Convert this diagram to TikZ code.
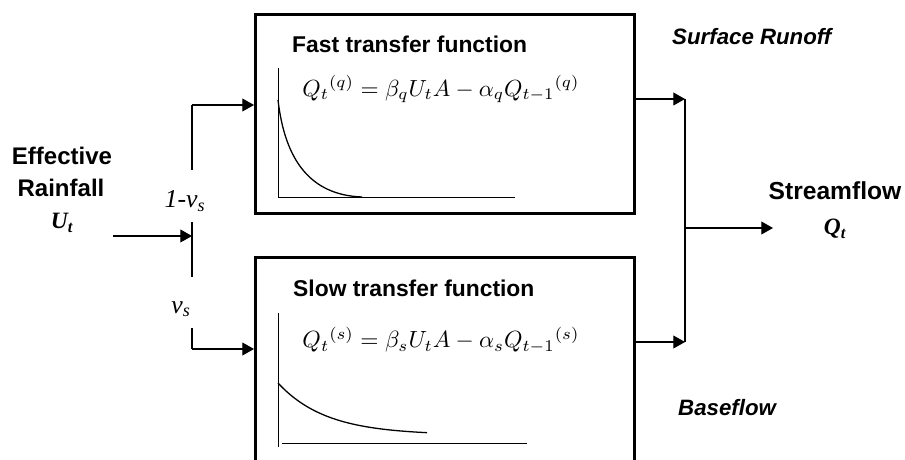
\documentclass[tikz,border=0pt]{standalone}
\usepackage{fontspec}
\usepackage{amsmath}
\usepackage{graphicx}
\setmainfont{Liberation Sans}
\newfontfamily\tnr{Liberation Serif}
\usetikzlibrary{arrows.meta}
\tikzset{
  box/.style={draw, line width=2.2pt, inner sep=0pt, anchor=north west, minimum width=11.37cm},
  conn/.style={line width=1.1pt},
  arr/.style={conn, -{Triangle[length=10pt,width=11pt]}},
  axisline/.style={line width=0.8pt},
  decay/.style={line width=1.1pt},
  title/.style={anchor=base west, inner sep=0pt, font=\fontsize{19.5}{22}\bfseries\selectfont},
  big/.style={anchor=base, inner sep=0pt, font=\fontsize{20.5}{24}\bfseries\selectfont},
  flow/.style={anchor=base west, inner sep=0pt, font=\fontsize{19}{22}\bfseries\itshape\selectfont},
  var/.style={anchor=base, inner sep=0pt, font=\fontsize{20}{22}\tnr\bfseries\itshape\selectfont},
  frac/.style={anchor=base, inner sep=0pt, font=\fontsize{22}{24}\tnr\itshape\selectfont},
  eq/.style={anchor=center, inner sep=0pt}
}
\begin{document}
\begin{tikzpicture}[x=0.03cm, y=-0.03cm]
\clip (0,0) rectangle (905,460);
\fill[white] (0,0) rectangle (905,460);

% boxes
\node[box, minimum height=5.97cm] (fast) at (254,13) {};
\node[box, minimum height=7cm] (slow) at (254,256) {};

% titles
\node[title] (ftitle) at (292,53) {Fast transfer function};
\node[title] (stitle) at (293,297) {Slow transfer function};

% equations
\node[eq] (feq) at (441,89) {\resizebox{8.31cm}{!}{$Q_t{}^{(q)} = \beta_q U_t A - \alpha_q Q_{t-1}{}^{(q)}$}};
\node[eq] (seq) at (441,340) {\resizebox{8.31cm}{!}{$Q_t{}^{(s)} = \beta_s U_t A - \alpha_s Q_{t-1}{}^{(s)}$}};

% fast graph
\draw[axisline] (278,68) -- (278,197) -- (515,197);
\draw[decay] (278,100) .. controls (285,160) and (310,195) .. (362,197);

% slow graph
\draw[axisline] (278,313) -- (278,447);
\draw[axisline] (282,443) -- (527,443);
\draw[decay] plot[domain=0:149, samples=60, smooth] ({278+\x},{435-52*exp(-\x/48)});

% left labels
\node[big] (eff) at (62,165) {Effective};
\node[big] (rain) at (61,197) {Rainfall};
\node[var] (ut) at (62,229) {U\textsubscript{t}};
\node[frac] (onev) at (185,208) {1-v\textsubscript{s}};
\node[frac] (vs) at (181,313) {v\textsubscript{s}};

% input connectors
\coordinate (inp) at (113,236);
\coordinate (split) at (192,236);
\coordinate (ftop) at (192,105);
\coordinate (sbot) at (192,349);
\draw[arr] (inp) -- (split);
\draw[conn] (192,170) -- (ftop);
\draw[arr] (ftop) -- (ftop -| fast.west);
\draw[conn] (192,222) -- (192,277);
\draw[conn] (192,328) -- (sbot);
\draw[arr] (sbot) -- (sbot -| slow.west);

% output connectors
\coordinate (j1) at (685,99);
\coordinate (j2) at (685,342);
\coordinate (jm) at (685,228);
\coordinate (out) at (773,228);
\draw[arr] (j1 -| fast.east) -- (j1);
\draw[arr] (j2 -| slow.east) -- (j2);
\draw[conn] (j1) -- (j2);
\draw[arr] (jm) -- (out);

% right labels
\node[flow] (surf) at (672,45) {Surface Runoff};
\node[flow] (base) at (678,415) {Baseflow};
\node[big, font=\fontsize{21}{24}\bfseries\selectfont] (stream) at (835,200) {Streamflow};
\node[var] (qt) at (835,235) {Q\textsubscript{t}};
\end{tikzpicture}
\end{document}
